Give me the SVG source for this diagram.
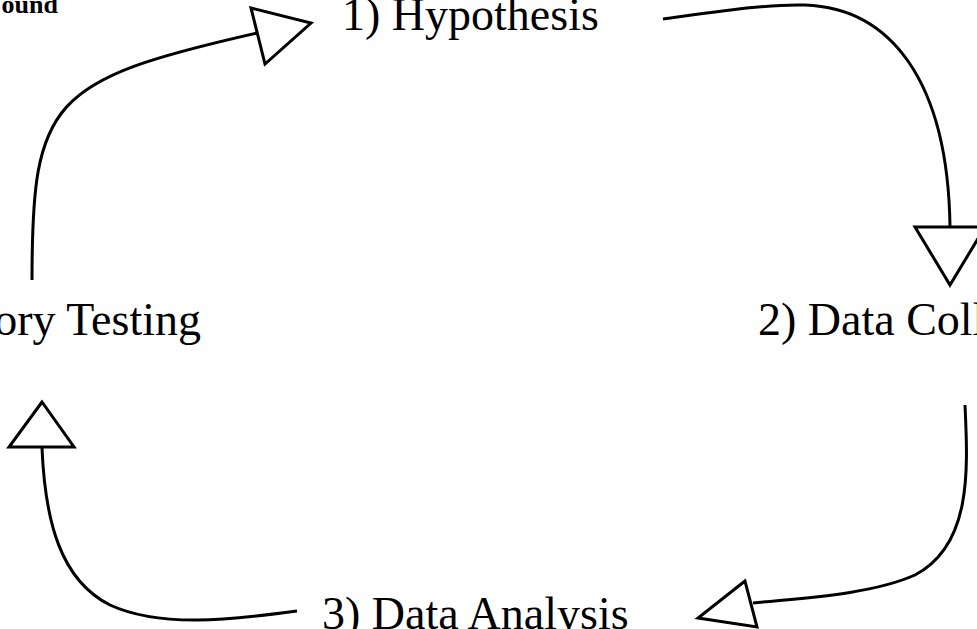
<svg xmlns="http://www.w3.org/2000/svg" width="977" height="629" viewBox="0 0 977 629">
<style>
.lbl{font-family:"Liberation Serif","Times New Roman",serif;font-size:46px;fill:#000}
.ttl{font-family:"Liberation Serif","Times New Roman",serif;font-size:26px;font-weight:bold;fill:#000}
.edge{fill:none;stroke:#000;stroke-width:3}
.head{fill:#fff;stroke:#000;stroke-width:3;stroke-linejoin:miter}
</style>
<rect width="977" height="629" fill="#fff"/>
<g id="title"><text class="ttl" x="58" y="13" text-anchor="end">ound</text></g>
<g id="connectors">
<path class="edge" d="M32,280 C32,100 50,80 257,33"/>
<polygon class="head" points="251,8 311,23 265,64"/>
<path class="edge" d="M663,19 C730,10 770,4 805,5 C890,8 948,80 950,227"/>
<polygon class="head" points="915,227 985,227 950,285"/>
<path class="edge" d="M965,405 C968,470 972,545 915,575 C870,595 800,598 753,603"/>
<polygon class="head" points="745,581 698,618 757,627"/>
<path class="edge" d="M297,611 C230,620 160,628 110,605 C60,580 45,520 42,448"/>
<polygon class="head" points="42,402 9,447 74,447"/>
</g>
<g id="node-hypothesis"><text class="lbl" x="342" y="30">1) Hypothesis</text></g>
<g id="node-collection"><text class="lbl" x="758" y="335">2) Data Coll</text></g>
<g id="node-analysis"><text class="lbl" x="322" y="629">3) Data Analysis</text></g>
<g id="node-testing"><text class="lbl" x="201" y="335" text-anchor="end">ory Testing</text></g>
</svg>
